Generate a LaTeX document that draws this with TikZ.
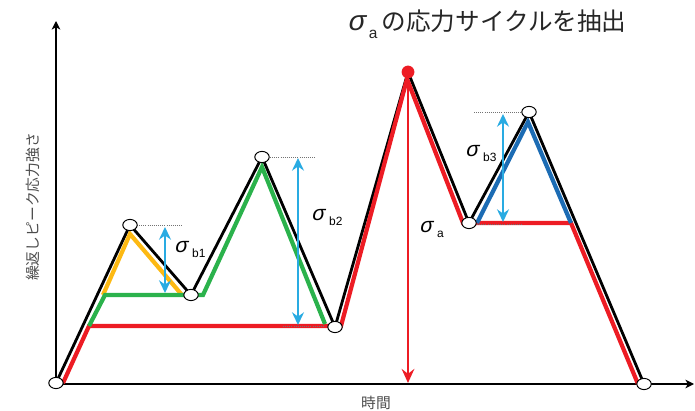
\documentclass[tikz,border=0pt]{standalone}
\usepackage{fontspec}
\setmainfont{Noto Sans CJK JP}
\newfontfamily\grkfont[FakeSlant=0.2]{Liberation Sans}
\newfontfamily\latfont{Liberation Sans}
\usetikzlibrary{arrows.meta,shapes.geometric}
\definecolor{cycred}{HTML}{ED1C24}
\definecolor{cycgreen}{HTML}{2BB24C}
\definecolor{cycyellow}{HTML}{FDB913}
\definecolor{cycblue}{HTML}{1C6CB4}
\definecolor{dimcyan}{HTML}{29ABE2}
\newcommand{\sglabel}[1]{{\grkfont\fontsize{15}{15}\selectfont σ}\hspace{3.5pt}\raisebox{-3pt}{\latfont\fontsize{8.5}{8.5}\selectfont #1}}

\begin{document}
\begin{tikzpicture}[x=0.025cm,y=-0.025cm,
    axis/.style={line width=1.4pt},
    blk/.style={line width=2pt,line join=miter},
    cyc/.style={line width=3pt,line join=miter},
    vtx/.style={ellipse,draw,line width=0.7pt,fill=white,minimum width=0.36cm,minimum height=0.28cm,inner sep=0pt},
    dim/.style={dimcyan,line width=1.8pt,{Stealth[length=9pt,width=8.5pt,inset=3pt]}-{Stealth[length=9pt,width=8.5pt,inset=3pt]}},
    lvl/.style={black!55,densely dotted,line width=0.5pt}]
    \useasboundingbox (0,0) rectangle (695,411);
    % turning points
    \coordinate (v0) at (56,383);
    \coordinate (v1) at (130,225);
    \coordinate (v2) at (191,295);
    \coordinate (v3) at (262,157);
    \coordinate (v4) at (335,327);
    \coordinate (v5) at (408,72);
    \coordinate (v6) at (469,223);
    \coordinate (v7) at (529,112);
    \coordinate (v8) at (644,384);
    \coordinate (orig) at (56,384);
    \coordinate (ytop) at (56,21);
    \coordinate (xend) at (694,384);
    \draw[axis,-{Stealth[length=6pt,width=6pt,inset=1.5pt]}] (orig) -- (ytop);
    \draw[axis,-{Stealth[length=6pt,width=6pt,inset=1.5pt]}] (orig) -- (xend);
    \draw[blk] (v0) -- (v1) -- (v2) -- (v3) -- (v4) -- (v5) -- (v6) -- (v7) -- (v8);
    % extracted cycles
    \draw[cyc,cycred] (63,383) -- (89,326) -- (341,326) -- (407,79) -- (463,223) -- (571,223) -- (638,384);
    \draw[cyc,cycyellow] (103,295) -- (130,234) -- (182,295);
    \draw[cyc,cycgreen] (89,326) -- (105,295) -- (203,295) -- (262,167) -- (325,324);
    \draw[cyc,cycblue] (477,223) -- (528,122) -- (571,223);
    \draw[lvl] (137,225) -- (183,225);
    \draw[lvl] (270,157) -- (315,157);
    \draw[lvl] (474,112) -- (522,112);
    \draw[lvl] (283,326) -- (325,326);
    \draw[lvl] (477,224) -- (523,224);
    % ranges
    \coordinate (b1t) at (165,227);
    \coordinate (b1b) at (165,293);
    \coordinate (b2t) at (298,158);
    \coordinate (b2b) at (298,325);
    \coordinate (b3t) at (503,114);
    \coordinate (b3b) at (503,222);
    \coordinate (abot) at (408,383);
    \draw[dim] (b1t) -- (b1b);
    \draw[dim] (b2t) -- (b2b);
    \draw[dim] (b3t) -- (b3b);
    \draw[cycred,line width=1.8pt,-{Stealth[length=10pt,width=9pt,inset=3.5pt]}] (v5) -- (abot);
    \node[vtx] (n0) at (v0) {};
    \node[vtx] (n1) at (v1) {};
    \node[vtx] (n2) at (v2) {};
    \node[vtx] (n3) at (v3) {};
    \node[vtx] (n4) at (v4) {};
    \node[circle,fill=cycred,minimum size=0.32cm,inner sep=0pt] (n5) at (v5) {};
    \node[vtx] (n6) at (v6) {};
    \node[vtx] (n7) at (v7) {};
    \node[vtx] (n8) at (v8) {};
    % labels
    \node[anchor=base west,inner sep=0pt] (lb1) at (174,253) {\sglabel{b1}};
    \node[anchor=base west,inner sep=0pt] (lb2) at (311,221) {\sglabel{b2}};
    \node[anchor=base west,inner sep=0pt] (lb3) at (465,157) {\sglabel{b3}};
    \node[anchor=base west,inner sep=0pt] (la) at (419,233) {\sglabel{a}};
    \node[anchor=base west,inner sep=0pt,text=black!85] (title) at (347,31)
        {{\grkfont\fontsize{20}{20}\selectfont σ}\hspace{3pt}\raisebox{-5pt}{\latfont\fontsize{11}{11}\selectfont a}\hspace{3pt}{\fontsize{17.5}{17.5}\selectfont の応力サイクルを抽出}};
    \node[rotate=90,text=black!70,font=\fontsize{10.5}{10.5}\selectfont] (ylab) at (33,207) {繰返しピーク応力強さ};
    \node[text=black!70,font=\fontsize{10.5}{10.5}\selectfont] (xlab) at (376,403) {時間};
\end{tikzpicture}
\end{document}
